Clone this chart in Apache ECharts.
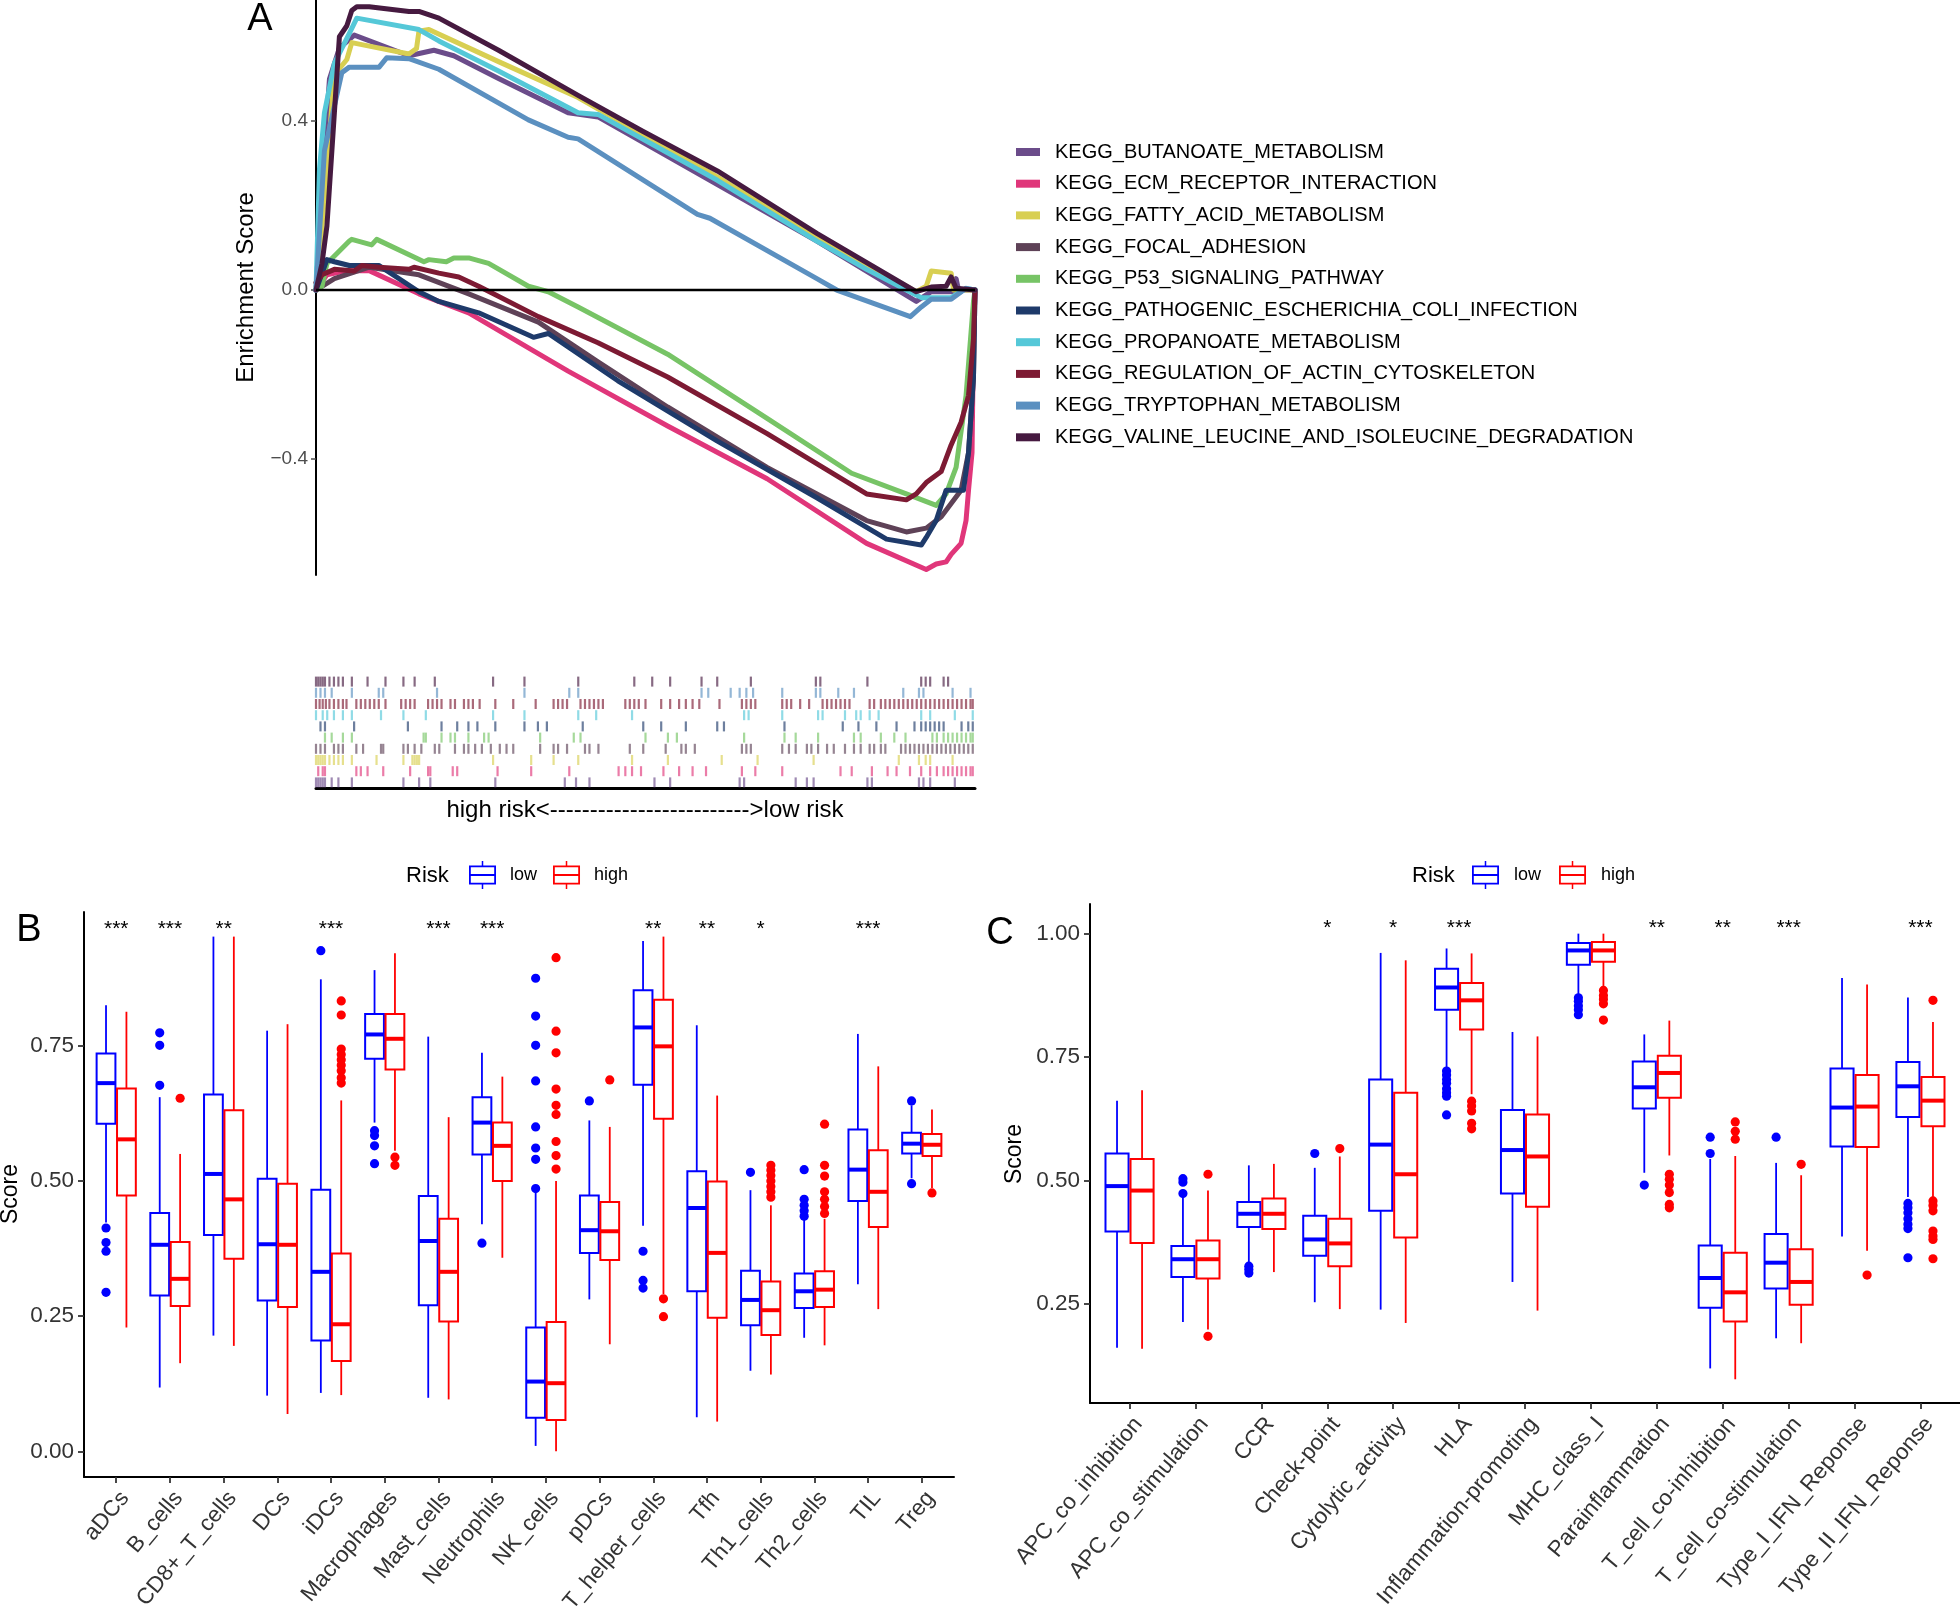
<!DOCTYPE html>
<html><head><meta charset="utf-8">
<script src="https://cdn.jsdelivr.net/npm/echarts@6/dist/echarts.min.js"></script>
<style>html,body{margin:0;padding:0;background:#fff}#c{width:1960px;height:1614px}</style>
</head><body><div id="c"></div>
<script>
const FONT = '"Liberation Sans", Arial, Helvetica, sans-serif';

// ---------- Panel A data ----------
const keggNames = ['KEGG_BUTANOATE_METABOLISM','KEGG_ECM_RECEPTOR_INTERACTION','KEGG_FATTY_ACID_METABOLISM','KEGG_FOCAL_ADHESION','KEGG_P53_SIGNALING_PATHWAY','KEGG_PATHOGENIC_ESCHERICHIA_COLI_INFECTION','KEGG_PROPANOATE_METABOLISM','KEGG_REGULATION_OF_ACTIN_CYTOSKELETON','KEGG_TRYPTOPHAN_METABOLISM','KEGG_VALINE_LEUCINE_AND_ISOLEUCINE_DEGRADATION'];
const keggColors = ['#6B4C8A','#E0367A','#D8CF52','#5E4257','#77C466','#1E3A6A','#55C8D8','#7D1A33','#5B90C0','#461A40'];

// running enrichment score: [rank %, ES]
const esButanoate = [[0,0],[0.91,0.24],[2.04,0.50],[3.55,0.573],[5.81,0.604],[14.11,0.555],[17.89,0.568],[20.91,0.555],[27.70,0.501],[38.26,0.42],[42.79,0.41],[60.91,0.25],[76.0,0.116],[91.09,-0.027],[93.36,-0.004],[96.75,-0.004],[97.13,0.027],[97.5,0.0],[100,0]];
const esEcm = [[0,0],[1.66,0.036],[4.30,0.045],[8.08,0.046],[15.62,-0.009],[23.17,-0.054],[38.26,-0.192],[53.36,-0.322],[68.45,-0.447],[83.55,-0.6],[92.6,-0.662],[94.11,-0.649],[95.62,-0.644],[96.38,-0.626],[97.89,-0.6],[98.64,-0.546],[99.02,-0.474],[99.55,-0.385],[99.77,-0.116],[100,0]];
const esFatty = [[0,0],[0.91,0.15],[2.79,0.51],[4.68,0.546],[5.43,0.586],[7.32,0.58],[14.11,0.559],[15.25,0.572],[15.62,0.613],[17.13,0.617],[27.70,0.541],[39.77,0.456],[60.91,0.268],[76.0,0.125],[91.09,-0.004],[92.6,0.009],[93.36,0.045],[96.38,0.04],[96.75,0.0],[100,0]];
const esFocal = [[0,0],[2.79,0.027],[8.08,0.054],[15.62,0.036],[23.17,-0.009],[33.74,-0.076],[42.79,-0.17],[53.36,-0.277],[68.45,-0.42],[83.55,-0.546],[89.58,-0.573],[92.6,-0.564],[94.87,-0.537],[97.89,-0.474],[99.02,-0.385],[99.77,-0.206],[100,0]];
const esP53 = [[0,0],[0.91,0.009],[1.66,0.063],[5.06,0.116],[5.43,0.12],[8.45,0.107],[9.21,0.12],[16.38,0.067],[17.13,0.072],[19.77,0.067],[20.91,0.076],[23.17,0.076],[26.19,0.063],[32.23,0.009],[35.25,-0.004],[39.77,-0.04],[53.36,-0.152],[68.45,-0.304],[81.28,-0.434],[89.58,-0.483],[94.11,-0.51],[95.62,-0.483],[97.13,-0.42],[98.64,-0.25],[99.77,-0.027],[100,0]];
const esEcoli = [[0,0],[1.66,0.072],[2.79,0.067],[5.06,0.058],[9.58,0.058],[15.62,-0.004],[18.64,-0.027],[24.68,-0.054],[33.0,-0.112],[35.25,-0.103],[45.81,-0.215],[60.91,-0.358],[76.0,-0.492],[86.57,-0.59],[91.85,-0.604],[92.6,-0.586],[94.11,-0.546],[95.62,-0.474],[98.26,-0.474],[99.02,-0.385],[99.77,-0.206],[100,0]];
const esPropanoate = [[0,0],[0.53,0.286],[1.28,0.42],[2.79,0.537],[5.06,0.608],[6.19,0.644],[15.62,0.617],[18.64,0.59],[27.70,0.519],[39.77,0.42],[42.79,0.416],[60.91,0.26],[76.0,0.116],[83.55,0.049],[90.19,-0.005],[91.85,-0.018],[96.38,-0.018],[98.64,0.004],[100,0]];
const esActin = [[0,0.018],[0.91,0.036],[2.79,0.049],[5.81,0.045],[6.94,0.058],[9.58,0.054],[14.11,0.049],[14.87,0.054],[18.64,0.04],[21.66,0.031],[24.68,0.009],[33.74,-0.063],[42.79,-0.125],[53.36,-0.206],[68.45,-0.34],[83.55,-0.483],[89.58,-0.497],[91.09,-0.483],[92.6,-0.456],[94.87,-0.43],[96.38,-0.367],[97.89,-0.313],[99.02,-0.25],[99.77,-0.116],[100,0]];
const esTryptophan = [[0,0],[1.28,0.33],[3.92,0.515],[5.06,0.528],[9.58,0.528],[10.72,0.55],[14.11,0.548],[18.64,0.523],[32.23,0.403],[38.26,0.362],[39.77,0.358],[57.89,0.179],[59.77,0.17],[76.0,0.027],[79.02,0.0],[90.19,-0.063],[91.85,-0.04],[93.36,-0.022],[96.38,-0.022],[98.64,0.004],[100,0]];
const esValine = [[0,0.0],[0.91,0.063],[1.66,0.152],[2.79,0.42],[3.55,0.60],[4.68,0.626],[5.43,0.662],[6.19,0.671],[8.08,0.671],[14.11,0.66],[15.62,0.66],[18.64,0.644],[27.70,0.568],[39.77,0.461],[49.58,0.376],[60.91,0.282],[76.0,0.134],[91.09,-0.004],[93.36,0.007],[95.62,0.009],[96.38,0.031],[97.13,0.004],[100,0]];
const esCurves = [esButanoate, esEcm, esFatty, esFocal, esP53, esEcoli, esPropanoate, esActin, esTryptophan, esValine];

// gene-set hit positions in the ranked list (rank 0..1470)
const hitsButanoate = [0,5,10,15,20,35,50,80,195,230,255,400,555,580,610,755,790,945,955,1070,1095,1110,1230,1240,1345,1355,1370,1425];
const hitsEcm = [5,15,20,90,100,115,150,210,250,255,305,315,405,480,565,675,690,705,725,775,810,840,870,950,980,1040,1170,1195,1240,1275,1295,1325,1350,1370,1385,1400,1410,1420,1430,1440,1450,1460,1465];
const hitsFatty = [0,5,10,15,20,30,40,50,60,80,135,195,215,220,225,230,395,480,530,585,705,785,905,985,1110,1300,1345,1360,1370,1420];
const hitsFocal = [0,10,20,40,50,60,90,105,145,150,195,205,220,235,265,275,310,330,340,355,370,390,410,425,440,500,530,540,560,600,610,630,700,730,780,815,825,845,950,960,970,1040,1055,1070,1095,1105,1120,1140,1155,1180,1200,1215,1235,1245,1260,1270,1305,1315,1325,1335,1345,1355,1365,1375,1385,1395,1405,1415,1425,1435,1445,1455,1465];
const hitsP53 = [20,35,60,80,240,245,280,300,310,340,375,385,500,575,590,735,785,805,955,1045,1070,1120,1200,1215,1260,1290,1315,1375,1385,1400,1410,1420,1430,1440,1450,1460,1465];
const hitsEcoli = [10,20,85,205,280,315,340,360,400,465,495,515,595,730,770,825,895,910,1045,1175,1210,1250,1295,1335,1350,1360,1370,1380,1390,1400,1440,1455,1465];
const hitsPropanoate = [0,15,25,40,60,80,145,195,245,395,465,585,625,705,955,965,1040,1120,1130,1180,1205,1215,1235,1255,1350,1370,1425,1465];
const hitsActin = [0,8,15,22,30,40,50,60,68,90,100,110,120,130,140,155,190,200,210,220,250,260,270,280,300,310,330,340,350,365,400,440,490,530,540,550,560,590,600,610,620,630,640,690,700,710,720,735,770,790,810,825,840,855,900,950,960,970,980,1040,1050,1060,1080,1100,1130,1140,1150,1160,1170,1180,1190,1235,1245,1260,1270,1280,1290,1300,1310,1320,1330,1340,1350,1360,1370,1380,1390,1400,1410,1420,1430,1440,1450,1460,1465];
const hitsTryptophan = [0,10,20,35,80,140,150,270,465,565,585,860,875,925,945,960,975,1040,1115,1125,1165,1200,1310,1345,1355,1420,1460];
const hitsValine = [0,5,10,15,20,30,40,50,60,80,115,155,195,220,265,395,465,585,710,750,790,860,895,970,1115,1125,1230,1350,1360,1370,1400,1410];
const rugHits = [hitsButanoate, hitsEcm, hitsFatty, hitsFocal, hitsP53, hitsEcoli, hitsPropanoate, hitsActin, hitsTryptophan, hitsValine];
const rankLabel = 'high risk<------------------------->low risk';

// ---------- Panel B data ----------
const catsB = ['aDCs','B_cells','CD8+_T_cells','DCs','iDCs','Macrophages','Mast_cells','Neutrophils','NK_cells','pDCs','T_helper_cells','Tfh','Th1_cells','Th2_cells','TIL','Treg'];
// [whisker low, Q1, median, Q3, whisker high]
const lowStatsB = [[0.423,0.606,0.681,0.736,0.825],[0.118,0.288,0.382,0.441,0.655],[0.214,0.40,0.513,0.66,0.952],[0.103,0.279,0.383,0.504,0.778],[0.108,0.205,0.332,0.484,0.873],[0.608,0.726,0.771,0.809,0.89],[0.099,0.27,0.389,0.472,0.767],[0.42,0.549,0.608,0.655,0.737],[0.01,0.062,0.129,0.229,0.478],[0.281,0.367,0.409,0.473,0.612],[0.417,0.678,0.784,0.853,0.944],[0.063,0.296,0.45,0.518,0.788],[0.149,0.233,0.28,0.334,0.483],[0.21,0.265,0.296,0.329,0.428],[0.309,0.463,0.521,0.595,0.772],[0.505,0.551,0.569,0.589,0.64]];
const highStatsB = [[0.229,0.473,0.577,0.671,0.813],[0.163,0.269,0.319,0.387,0.55],[0.195,0.356,0.466,0.631,0.952],[0.069,0.267,0.382,0.495,0.79],[0.104,0.167,0.235,0.366,0.649],[0.556,0.706,0.763,0.809,0.921],[0.096,0.24,0.332,0.43,0.618],[0.358,0.50,0.565,0.608,0.693],[0.0,0.058,0.126,0.239,0.50],[0.198,0.354,0.407,0.461,0.60],[0.291,0.615,0.749,0.835,0.952],[0.055,0.247,0.367,0.499,0.658],[0.142,0.215,0.261,0.314,0.455],[0.196,0.267,0.299,0.333,0.43],[0.263,0.415,0.48,0.557,0.712],[0.487,0.546,0.567,0.587,0.632]];
const lowOutB = [[0.413,0.386,0.37,0.294],[0.774,0.751,0.677],[],[],[0.926],[0.593,0.584,0.565,0.532],[],[0.385],[0.875,0.805,0.751,0.685,0.60,0.561,0.54,0.486],[0.648],[0.37,0.316,0.302],[],[0.516],[0.521,0.466,0.455,0.445,0.435],[],[0.648,0.495]];
const highOutB = [[],[0.653],[],[],[0.833,0.807,0.744,0.734,0.724,0.714,0.704,0.691,0.681],[0.544,0.529],[],[],[0.913,0.777,0.737,0.67,0.64,0.623,0.573,0.547,0.522],[0.687],[0.282,0.249],[],[0.529,0.52,0.51,0.50,0.49,0.48,0.47],[0.605,0.529,0.509,0.48,0.466,0.453,0.44],[],[0.478]];
const starsB = ['***','***','**','','***','','***','***','','','**','**','*','','***',''];
const yTicksB = [0, 0.25, 0.5, 0.75];

// ---------- Panel C data ----------
const catsC = ['APC_co_inhibition','APC_co_stimulation','CCR','Check-point','Cytolytic_activity','HLA','Inflammation-promoting','MHC_class_I','Parainflammation','T_cell_co-inhibition','T_cell_co-stimulation','Type_I_IFN_Reponse','Type_II_IFN_Reponse'];
const lowStatsC = [[0.162,0.397,0.489,0.555,0.662],[0.214,0.305,0.341,0.368,0.482],[0.335,0.406,0.433,0.457,0.531],[0.254,0.348,0.381,0.429,0.526],[0.239,0.439,0.573,0.705,0.961],[0.725,0.846,0.891,0.929,0.97],[0.295,0.474,0.562,0.643,0.801],[0.875,0.937,0.966,0.981,1.0],[0.516,0.646,0.689,0.741,0.796],[0.12,0.243,0.303,0.369,0.544],[0.181,0.282,0.334,0.392,0.536],[0.387,0.569,0.648,0.727,0.91],[0.467,0.629,0.691,0.74,0.871]];
const highStatsC = [[0.16,0.374,0.48,0.544,0.683],[0.199,0.302,0.341,0.379,0.48],[0.315,0.402,0.433,0.464,0.534],[0.24,0.327,0.373,0.423,0.549],[0.212,0.385,0.513,0.678,0.946],[0.675,0.806,0.865,0.90,0.96],[0.237,0.447,0.549,0.634,0.792],[0.89,0.943,0.966,0.983,1.0],[0.551,0.668,0.718,0.753,0.824],[0.098,0.215,0.274,0.354,0.55],[0.171,0.249,0.295,0.361,0.511],[0.358,0.568,0.65,0.714,0.897],[0.466,0.61,0.662,0.71,0.821]];
const lowOutC = [[],[0.504,0.497,0.474],[0.327,0.32,0.313],[0.555],[],[0.722,0.714,0.705,0.697,0.686,0.678,0.671,0.633],[],[0.87,0.863,0.854,0.846,0.836],[0.491],[0.588,0.555],[0.588],[],[0.454,0.445,0.435,0.423,0.412,0.403,0.344]];
const highOutC = [[],[0.513,0.185],[],[0.565],[],[0.661,0.651,0.641,0.616,0.605],[],[0.885,0.875,0.867,0.858,0.825],[0.513,0.503,0.491,0.476,0.452,0.445],[0.619,0.60,0.584],[0.533],[0.309],[0.865,0.459,0.45,0.439,0.398,0.388,0.381,0.342]];
const starsC = ['','','','*','*','***','','','**','**','***','','***'];
const yTicksC = [0.25, 0.5, 0.75, 1.0];

const riskNames = ['low','high'];
const riskColors = ['#0000FF','#FF0000'];

// ---------- build ----------
const chart = echarts.init(document.getElementById('c'), null, {renderer:'canvas'});
const DODGE = 0.19, BOXW = 0.35;

function boxSeries(name, color, axisIdx, stats, off) {
  return {
    name, type:'custom', xAxisIndex:axisIdx, yAxisIndex:axisIdx, itemStyle:{color}, z:3,
    data: stats.map((s,k)=>[k+1].concat(s)),
    encode:{x:0, y:[1,2,3,4,5]},
    renderItem: function(params, api) {
      const x = api.value(0) + off;
      const lo = api.coord([x, api.value(1)]);
      const q1 = api.coord([x, api.value(2)]);
      const md = api.coord([x, api.value(3)]);
      const q3 = api.coord([x, api.value(4)]);
      const hi = api.coord([x, api.value(5)]);
      const hw = api.size([BOXW, 0])[0] / 2;
      return {type:'group', children:[
        {type:'line', shape:{x1:lo[0],y1:lo[1],x2:q1[0],y2:q1[1]}, style:{stroke:color,lineWidth:1.8}},
        {type:'line', shape:{x1:q3[0],y1:q3[1],x2:hi[0],y2:hi[1]}, style:{stroke:color,lineWidth:1.8}},
        {type:'rect', shape:{x:q3[0]-hw,y:q3[1],width:2*hw,height:q1[1]-q3[1]}, style:{fill:'#fff',stroke:color,lineWidth:2}},
        {type:'line', shape:{x1:md[0]-hw,y1:md[1],x2:md[0]+hw,y2:md[1]}, style:{stroke:color,lineWidth:4}}
      ]};
    }
  };
}
function outlierSeries(name, color, axisIdx, outs, off) {
  const data = [];
  outs.forEach((arr,k)=>arr.forEach(v=>data.push([k+1, v])));
  return {
    name, type:'custom', xAxisIndex:axisIdx, yAxisIndex:axisIdx, itemStyle:{color}, z:4,
    data, encode:{x:0,y:1},
    renderItem: function(params, api) {
      const p = api.coord([api.value(0)+off, api.value(1)]);
      return {type:'circle', shape:{cx:p[0], cy:p[1], r:4.6}, style:{fill:color}};
    }
  };
}
function starSeries(axisIdx, stars, yLevel) {
  const data = [];
  stars.forEach((s,k)=>{ if (s) data.push([k+1, yLevel, s]); });
  return {
    type:'custom', xAxisIndex:axisIdx, yAxisIndex:axisIdx, z:5, silent:true,
    data, encode:{x:0,y:1},
    renderItem: function(params, api) {
      const p = api.coord([api.value(0), api.value(1)]);
      const idx = params.dataIndex;
      return {type:'text', x:p[0], y:p[1], style:{text:data[idx][2], fill:'#000', font:'21px '+FONT, align:'center', verticalAlign:'middle', textAlign:'center', textVerticalAlign:'middle'}};
    }
  };
}

const series = [];
keggNames.forEach((n,i)=>{
  series.push({name:n, type:'line', xAxisIndex:0, yAxisIndex:0, data:esCurves[i], symbol:'none', showSymbol:false,
    lineStyle:{color:keggColors[i], width:5, join:'round', cap:'round'}, itemStyle:{color:keggColors[i]}, z:2, silent:true});
});
series.push({name:'zero', type:'line', xAxisIndex:0, yAxisIndex:0, data:[[0,0],[100,0]], symbol:'none', lineStyle:{color:'#000', width:2.5}, z:20, silent:true});
keggNames.forEach((n,i)=>{
  series.push({name:n, type:'scatter', xAxisIndex:1, yAxisIndex:1, data:rugHits[i].map(p=>[p, i+0.5]),
    symbol:'rect', symbolSize:[2.2,10], itemStyle:{color:keggColors[i], opacity:0.65}, silent:true});
});
series.push(boxSeries('low', riskColors[0], 2, lowStatsB, -DODGE));
series.push(boxSeries('high', riskColors[1], 2, highStatsB, DODGE));
series.push(outlierSeries('low', riskColors[0], 2, lowOutB, -DODGE));
series.push(outlierSeries('high', riskColors[1], 2, highOutB, DODGE));
series.push(starSeries(2, starsB, 0.966));
series.push(boxSeries('low', riskColors[0], 3, lowStatsC, -DODGE));
series.push(boxSeries('high', riskColors[1], 3, highStatsC, DODGE));
series.push(outlierSeries('low', riskColors[0], 3, lowOutC, -DODGE));
series.push(outlierSeries('high', riskColors[1], 3, highOutC, DODGE));
series.push(starSeries(3, starsC, 1.012));

const catIdxB = catsB.map((_,i)=>i+1);
const catIdxC = catsC.map((_,i)=>i+1);
const fmtA = v => (v < 0 ? '\u2212' + (-v).toFixed(1) : v.toFixed(1));

function catXAxis(grid, max, idx, cats) {
  return {gridIndex:grid, type:'value', min:0.4, max:max,
    axisLine:{show:true, onZero:false, lineStyle:{color:'#000', width:2}},
    axisTick:{show:true, customValues:idx, length:6, lineStyle:{color:'#333', width:1.8}},
    axisLabel:{show:true, customValues:idx, formatter:v=>cats[Math.round(v)-1], rotate:50, fontSize:22.5, color:'#333', fontFamily:FONT, margin:10, align:'right', verticalAlign:'top'},
    splitLine:{show:false}};
}
function scoreYAxis(grid, min, max, ticks) {
  return {gridIndex:grid, type:'value', min, max,
    axisLine:{show:true, onZero:false, lineStyle:{color:'#000', width:2}},
    axisTick:{show:true, customValues:ticks, length:6, lineStyle:{color:'#333', width:1.8}},
    axisLabel:{show:true, customValues:ticks, formatter:v=>v.toFixed(2), fontSize:22.5, color:'#333', fontFamily:FONT, margin:10},
    splitLine:{show:false}};
}

const boxIcon = 'path://M12.75,0h1.5v5h-1.5Z M0,4.5h27v1.8h-27Z M0,21.7h27v1.8h-27Z M0,4.5h1.8v19h-1.8Z M25.2,4.5h1.8v19h-1.8Z M0,13.1h27v1.8h-27Z M12.75,23h1.5v5h-1.5Z';

function txt(text, x, y, size, opts) {
  opts = opts || {};
  return {type:'text', x, y, rotation:opts.rot||0, silent:true, z:10,
    style:{text, fill:opts.color||'#000', font:size+'px '+FONT,
      align:opts.align||'center', verticalAlign:'middle', textAlign:opts.align||'center', textVerticalAlign:'middle'}};
}

const option = {
  backgroundColor:'#fff',
  animation:false,
  textStyle:{fontFamily:FONT},
  grid:[
    {left:316, top:0, width:659, height:575, outerBoundsMode:'none'},
    {left:316, top:676, width:659, height:112, outerBoundsMode:'none'},
    {left:84, top:912, width:870, height:565, outerBoundsMode:'none'},
    {left:1090, top:904, width:870, height:499, outerBoundsMode:'none'}
  ],
  xAxis:[
    {gridIndex:0, type:'value', min:0, max:100, show:false},
    {gridIndex:1, type:'value', min:0, max:1470, axisLine:{show:true, onZero:false, lineStyle:{color:'#000', width:3}}, axisTick:{show:false}, axisLabel:{show:false}, splitLine:{show:false}},
    catXAxis(2, 16.6, catIdxB, catsB),
    catXAxis(3, 13.6, catIdxC, catsC)
  ],
  yAxis:[
    {gridIndex:0, type:'value', min:-0.675, max:0.687,
      axisLine:{show:true, onZero:false, lineStyle:{color:'#000', width:2}},
      axisTick:{show:true, customValues:[-0.4,0,0.4], length:5, lineStyle:{color:'#4D4D4D', width:1.5}},
      axisLabel:{show:true, customValues:[-0.4,0,0.4], formatter:fmtA, fontSize:19, color:'#4D4D4D', fontFamily:FONT, margin:8},
      splitLine:{show:false}},
    {gridIndex:1, type:'value', min:0, max:10, show:false},
    scoreYAxis(2, -0.0475, 0.9975, yTicksB),
    scoreYAxis(3, 0.05, 1.06, yTicksC)
  ],
  legend:[
    {data:keggNames, orient:'vertical', left:1016, top:142, padding:0, icon:'rect', itemWidth:24, itemHeight:8, itemGap:11.7,
      selectedMode:false, textStyle:{fontSize:20, color:'#000', fontFamily:FONT, lineHeight:20, padding:[0,0,0,10]}},
    {data:riskNames, orient:'horizontal', left:469, top:861, padding:0, icon:boxIcon, itemWidth:27, itemHeight:28, itemGap:16,
      selectedMode:false, textStyle:{fontSize:18, color:'#000', fontFamily:FONT, padding:[0,0,0,9]}},
    {data:riskNames, orient:'horizontal', left:1472, top:861, padding:0, icon:boxIcon, itemWidth:27, itemHeight:28, itemGap:18,
      selectedMode:false, textStyle:{fontSize:18, color:'#000', fontFamily:FONT, padding:[0,0,0,10]}}
  ],
  graphic:[
    txt('A', 260, 20, 38),
    txt('B', 29, 931, 38),
    txt('C', 1000, 934, 38),
    txt('Enrichment Score', 246, 287.5, 24, {rot:Math.PI/2}),
    txt('Score', 11, 1194, 23, {rot:Math.PI/2}),
    txt('Score', 1015, 1154, 23, {rot:Math.PI/2}),
    txt('Risk', 406, 876, 22, {align:'left'}),
    txt('Risk', 1412, 876, 22, {align:'left'}),
    txt(rankLabel, 645, 810, 24)
  ],
  series
};
chart.setOption(option);
</script></body></html>
